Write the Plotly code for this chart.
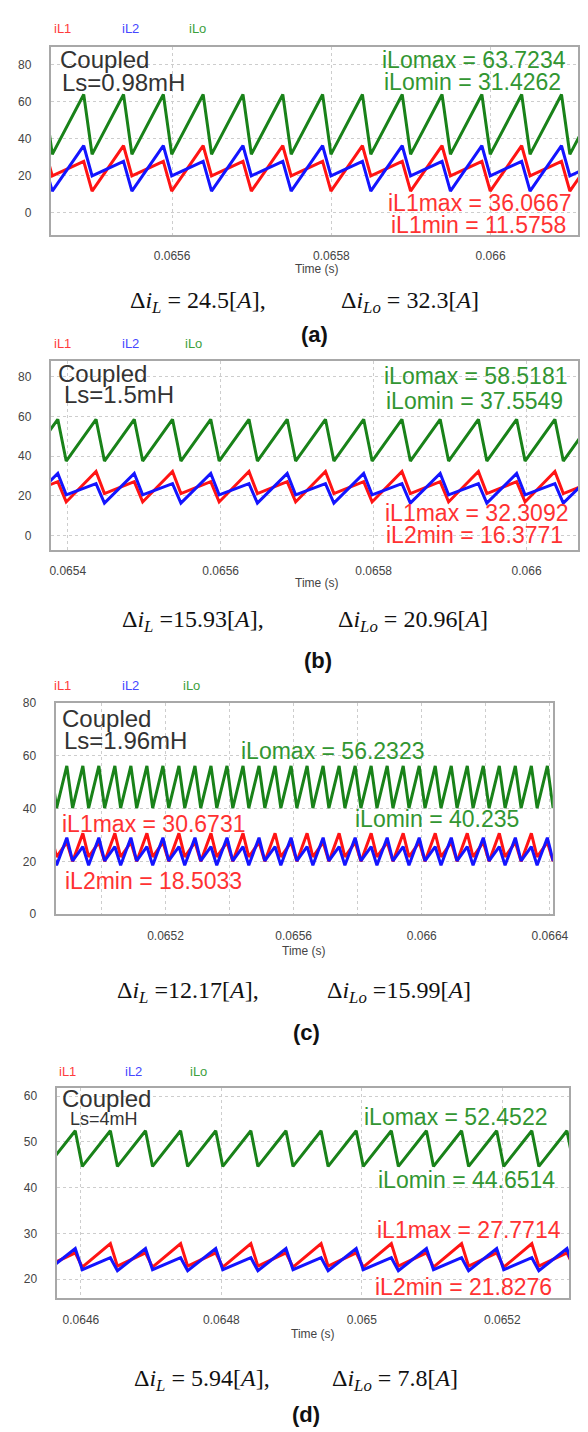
import plotly.graph_objects as go

W, H = 588, 1432

# ---------------- Panel (a): Coupled, Ls = 0.98 mH ----------------
t_a = [0.065439, 0.0654495, 0.065489, 0.0654995, 0.065539, 0.0655495, 0.065589, 0.0655995,
       0.065639, 0.0656495, 0.065689, 0.0656995, 0.065739, 0.0657495, 0.065789, 0.0657995,
       0.065839, 0.0658495, 0.065889, 0.0658995, 0.065939, 0.0659495, 0.065989, 0.0659995,
       0.066039, 0.0660495, 0.066089, 0.0660995, 0.066139]
iL1_a = [36.07, 19.85, 27.66, 11.58, 36.07, 19.85, 27.66, 11.58, 36.07, 19.85, 27.66, 11.58,
         36.07, 19.85, 27.66, 11.58, 36.07, 19.85, 27.66, 11.58, 36.07, 19.85, 27.66, 11.58,
         36.07, 19.85, 27.66, 11.58, 36.07]
iL2_a = [27.66, 11.58, 36.07, 19.85, 27.66, 11.58, 36.07, 19.85, 27.66, 11.58, 36.07, 19.85,
         27.66, 11.58, 36.07, 19.85, 27.66, 11.58, 36.07, 19.85, 27.66, 11.58, 36.07, 19.85,
         27.66, 11.58, 36.07, 19.85, 27.66]
iLo_a = [63.72, 31.43, 63.72, 31.43, 63.72, 31.43, 63.72, 31.43, 63.72, 31.43, 63.72, 31.43,
         63.72, 31.43, 63.72, 31.43, 63.72, 31.43, 63.72, 31.43, 63.72, 31.43, 63.72, 31.43,
         63.72, 31.43, 63.72, 31.43, 63.72]
xt_a = [0.0656, 0.0658, 0.066]
xtl_a = ["0.0656", "0.0658", "0.066"]
xg_a = [0.0656, 0.0658, 0.066]
yt_a = [0, 20, 40, 60, 80]

# ---------------- Panel (b): Coupled, Ls = 1.5 mH ----------------
t_b = [0.065337, 0.065348, 0.065387, 0.065398, 0.065437, 0.065448, 0.065487, 0.065498,
       0.065537, 0.065548, 0.065587, 0.065598, 0.065637, 0.065648, 0.065687, 0.065698,
       0.065737, 0.065748, 0.065787, 0.065798, 0.065837, 0.065848, 0.065887, 0.065898,
       0.065937, 0.065948, 0.065987, 0.065998, 0.066037, 0.066048, 0.066087]
iL1_b = [32.31, 21.17, 27.22, 17.0, 32.31, 21.17, 27.22, 17.0, 32.31, 21.17, 27.22, 17.0,
         32.31, 21.17, 27.22, 17.0, 32.31, 21.17, 27.22, 17.0, 32.31, 21.17, 27.22, 17.0,
         32.31, 21.17, 27.22, 17.0, 32.31, 21.17, 27.22]
iL2_b = [26.21, 16.38, 31.3, 20.55, 26.21, 16.38, 31.3, 20.55, 26.21, 16.38, 31.3, 20.55,
         26.21, 16.38, 31.3, 20.55, 26.21, 16.38, 31.3, 20.55, 26.21, 16.38, 31.3, 20.55,
         26.21, 16.38, 31.3, 20.55, 26.21, 16.38, 31.3]
iLo_b = [58.52, 37.55, 58.52, 37.55, 58.52, 37.55, 58.52, 37.55, 58.52, 37.55, 58.52, 37.55,
         58.52, 37.55, 58.52, 37.55, 58.52, 37.55, 58.52, 37.55, 58.52, 37.55, 58.52, 37.55,
         58.52, 37.55, 58.52, 37.55, 58.52, 37.55, 58.52]
xt_b = [0.0654, 0.0656, 0.0658, 0.066]
xtl_b = ["0.0654", "0.0656", "0.0658", "0.066"]
xg_b = [0.0654, 0.0656, 0.0658, 0.066]
yt_b = [0, 20, 40, 60, 80]

# ---------------- Panel (c): Coupled, Ls = 1.96 mH ----------------
t_c = [0.064842, 0.06486, 0.064892, 0.06491, 0.064942, 0.06496, 0.064992, 0.06501,
       0.065042, 0.06506, 0.065092, 0.06511, 0.065142, 0.06516, 0.065192, 0.06521,
       0.065242, 0.06526, 0.065292, 0.06531, 0.065342, 0.06536, 0.065392, 0.06541,
       0.065442, 0.06546, 0.065492, 0.06551, 0.065542, 0.06556, 0.065592, 0.06561,
       0.065642, 0.06566, 0.065692, 0.06571, 0.065742, 0.06576, 0.065792, 0.06581,
       0.065842, 0.06586, 0.065892, 0.06591, 0.065942, 0.06596, 0.065992, 0.06601,
       0.066042, 0.06606, 0.066092, 0.06611, 0.066142, 0.06616, 0.066192, 0.06621,
       0.066242, 0.06626, 0.066292, 0.06631, 0.066342, 0.06636, 0.066392, 0.06641,
       0.066442]
iL1_c = [30.67, 21.73, 27.23, 20.0, 30.67, 21.73, 27.23, 20.0, 30.67, 21.73, 27.23, 20.0,
         30.67, 21.73, 27.23, 20.0, 30.67, 21.73, 27.23, 20.0, 30.67, 21.73, 27.23, 20.0,
         30.67, 21.73, 27.23, 20.0, 30.67, 21.73, 27.23, 20.0, 30.67, 21.73, 27.23, 20.0,
         30.67, 21.73, 27.23, 20.0, 30.67, 21.73, 27.23, 20.0, 30.67, 21.73, 27.23, 20.0,
         30.67, 21.73, 27.23, 20.0, 30.67, 21.73, 27.23, 20.0, 30.67, 21.73, 27.23, 20.0,
         30.67, 21.73, 27.23, 20.0, 30.67]
iL2_c = [25.56, 18.5, 29.0, 20.23, 25.56, 18.5, 29.0, 20.23, 25.56, 18.5, 29.0, 20.23,
         25.56, 18.5, 29.0, 20.23, 25.56, 18.5, 29.0, 20.23, 25.56, 18.5, 29.0, 20.23,
         25.56, 18.5, 29.0, 20.23, 25.56, 18.5, 29.0, 20.23, 25.56, 18.5, 29.0, 20.23,
         25.56, 18.5, 29.0, 20.23, 25.56, 18.5, 29.0, 20.23, 25.56, 18.5, 29.0, 20.23,
         25.56, 18.5, 29.0, 20.23, 25.56, 18.5, 29.0, 20.23, 25.56, 18.5, 29.0, 20.23,
         25.56, 18.5, 29.0, 20.23, 25.56]
iLo_c = [56.23, 40.24, 56.23, 40.24, 56.23, 40.24, 56.23, 40.24, 56.23, 40.24, 56.23, 40.24,
         56.23, 40.24, 56.23, 40.24, 56.23, 40.24, 56.23, 40.24, 56.23, 40.24, 56.23, 40.24,
         56.23, 40.24, 56.23, 40.24, 56.23, 40.24, 56.23, 40.24, 56.23, 40.24, 56.23, 40.24,
         56.23, 40.24, 56.23, 40.24, 56.23, 40.24, 56.23, 40.24, 56.23, 40.24, 56.23, 40.24,
         56.23, 40.24, 56.23, 40.24, 56.23, 40.24, 56.23, 40.24, 56.23, 40.24, 56.23, 40.24,
         56.23, 40.24, 56.23, 40.24, 56.23]
xt_c = [0.0652, 0.0656, 0.066, 0.0664]
xtl_c = ["0.0652", "0.0656", "0.066", "0.0664"]
xg_c = [0.065, 0.0652, 0.0654, 0.0656, 0.0658, 0.066, 0.0662, 0.0664]
yt_c = [0, 20, 40, 60, 80]

# ---------------- Panel (d): Coupled, Ls = 4 mH ----------------
t_d = [0.064542, 0.064552, 0.064592, 0.064602, 0.064642, 0.064652, 0.064692, 0.064702,
       0.064742, 0.064752, 0.064792, 0.064802, 0.064842, 0.064852, 0.064892, 0.064902,
       0.064942, 0.064952, 0.064992, 0.065002, 0.065042, 0.065052, 0.065092, 0.065102,
       0.065142, 0.065152, 0.065192, 0.065202, 0.065242, 0.065252, 0.065292, 0.065302]
iL1_d = [27.77, 22.82, 25.75, 22.6, 27.77, 22.82, 25.75, 22.6, 27.77, 22.82, 25.75, 22.6,
         27.77, 22.82, 25.75, 22.6, 27.77, 22.82, 25.75, 22.6, 27.77, 22.82, 25.75, 22.6,
         27.77, 22.82, 25.75, 22.6, 27.77, 22.82, 25.75, 22.6]
iL2_d = [24.68, 21.83, 26.7, 22.05, 24.68, 21.83, 26.7, 22.05, 24.68, 21.83, 26.7, 22.05,
         24.68, 21.83, 26.7, 22.05, 24.68, 21.83, 26.7, 22.05, 24.68, 21.83, 26.7, 22.05,
         24.68, 21.83, 26.7, 22.05, 24.68, 21.83, 26.7, 22.05]
iLo_d = [52.45, 44.65, 52.45, 44.65, 52.45, 44.65, 52.45, 44.65, 52.45, 44.65, 52.45, 44.65,
         52.45, 44.65, 52.45, 44.65, 52.45, 44.65, 52.45, 44.65, 52.45, 44.65, 52.45, 44.65,
         52.45, 44.65, 52.45, 44.65, 52.45, 44.65, 52.45, 44.65]
xt_d = [0.0646, 0.0648, 0.065, 0.0652]
xtl_d = ["0.0646", "0.0648", "0.065", "0.0652"]
xg_d = [0.0646, 0.0648, 0.065, 0.0652]
yt_d = [20, 30, 40, 50, 60]

# ---------------- texts ----------------
series_names = ["iL1", "iL2", "iLo"]
ls_texts = ["Ls=0.98mH", "Ls=1.5mH", "Ls=1.96mH", "Ls=4mH"]
max_o = ["iLomax = 63.7234", "iLomax = 58.5181", "iLomax = 56.2323", "iLomax = 52.4522"]
min_o = ["iLomin = 31.4262", "iLomin = 37.5549", "iLomin = 40.235", "iLomin = 44.6514"]
max_1 = ["iL1max = 36.0667", "iL1max = 32.3092", "iL1max = 30.6731", "iL1max = 27.7714"]
min_x = ["iL1min = 11.5758", "iL2min = 16.3771", "iL2min = 18.5033", "iL2min = 21.8276"]
dL = ["= 24.5", "=15.93", "=12.17", "= 5.94"]
dLo = ["= 32.3", "= 20.96", "=15.99", "= 7.8"]
panel_tags = ["(a)", "(b)", "(c)", "(d)"]

# ---------------- style / layout ----------------
RED = "rgb(255,20,20)"
BLUE = "rgb(20,20,255)"
GREEN = "rgb(25,130,25)"
TXT_RED = "rgb(255,50,50)"
TXT_GREEN = "rgb(50,150,50)"
SANS = "Liberation Sans, Arial, sans-serif"
SERIF = "Liberation Serif, Times New Roman, serif"

def px(x):
    return x / W

def py(y):
    return 1 - y / H

panels = [
    dict(t=t_a, s=[iL1_a, iL2_a, iLo_a], xt=xt_a, xtl=xtl_a, xg=xg_a, yt=yt_a,
         box=(43, 586, 32, 222), xr=[0.0654476, 0.0661098], yr=[-12.0, 89.5],
         leg_y=14, leg_x=(55, 125, 194), cp=(50, 45), ls=(53, 68, 24),
         go1=(479, 45), go2=(477, 68), r1=(485, 190), r2=(483, 212),
         time=(317, 257), dl=(195, 413, 290), tag=(315, 323)),
    dict(t=t_b, s=[iL1_b, iL2_b, iLo_b], xt=xt_b, xtl=xtl_b, xg=xg_b, yt=yt_b,
         box=(43, 586, 349, 540), xr=[0.0653778, 0.0660673], yr=[-7.0, 88.0],
         leg_y=332, leg_x=(55, 125, 190), cp=(48, 362), ls=(55, 383, 24),
         go1=(481, 365), go2=(479, 390), r1=(482, 503), r2=(479, 525),
         time=(317, 574), dl=(189, 416, 612), tag=(318, 652)),
    dict(t=t_c, s=[iL1_c, iL2_c, iLo_c], xt=xt_c, xtl=xtl_c, xg=xg_c, yt=yt_c,
         box=(48, 560, 695, 908), xr=[0.064857, 0.066409], yr=[0, 80],
         leg_y=677, leg_x=(55, 125, 188), cp=(53, 710), ls=(55, 733, 24),
         go1=(334, 743), go2=(441, 812), r1=(149, 817), r2=(149, 875),
         time=(304, 945), dl=(184, 402, 987), tag=(306, 1028)),
    dict(t=t_d, s=[iL1_d, iL2_d, iLo_d], xt=xt_d, xtl=xtl_d, xg=xg_d, yt=yt_d,
         box=(49, 577, 1084, 1296), xr=[0.0645654, 0.0652954], yr=[15.8, 61.7],
         leg_y=1067, leg_x=(60, 128, 195), cp=(53, 1094), ls=(61, 1115, 18),
         go1=(460, 1113), go2=(471, 1177), r1=(474, 1227), r2=(468, 1285),
         time=(313, 1332), dl=(199, 397, 1378), tag=(306, 1413)),
]

fig = go.Figure()
layout = dict(width=W, height=H, margin=dict(l=0, r=0, t=0, b=0),
              paper_bgcolor="white", plot_bgcolor="white", showlegend=False)
annotations = []

def ann(text, x, y, size, color, anchor="center", family=SANS):
    annotations.append(dict(text=text, x=px(x), y=py(y), xref="paper", yref="paper",
                            xanchor=anchor, yanchor="middle", showarrow=False,
                            font=dict(size=size, color=color, family=family)))

GRID = dict(showgrid=True, gridcolor="#cdcdcd", griddash="dot", gridwidth=1)

for i, p in enumerate(panels):
    n = "" if i == 0 else str(i + 1)
    xa, ya = "x" + n, "y" + n
    colors = [RED, BLUE, GREEN]
    for k in (0, 1, 2):
        fig.add_trace(go.Scatter(x=p["t"], y=p["s"][k], mode="lines", name=series_names[k],
                                 line=dict(color=colors[k], width=3),
                                 xaxis=xa, yaxis=ya, hoverinfo="skip"))
    x0, x1, y0, y1 = p["box"]
    axcommon = dict(showline=True, mirror=True, linecolor="#a8a8a8", linewidth=2,
                    zeroline=False, ticks="", tickfont=dict(size=12, color="#444", family=SANS),
                    tickmode="array", fixedrange=True)
    layout["xaxis" + n] = dict(axcommon, domain=[px(x0), px(x1)], range=p["xr"], anchor=ya,
                               tickvals=p["xt"], ticktext=p["xtl"], ticklabelstandoff=9,
                               showgrid=False,
                               minor=dict(tickmode="array", tickvals=p["xg"], ticks="", **GRID))
    layout["yaxis" + n] = dict(axcommon, domain=[py(y1), py(y0)], range=p["yr"], anchor=xa,
                               tickvals=p["yt"], ticktext=[str(v) for v in p["yt"]],
                               ticklabelstandoff=15, **GRID)
    # legend labels
    for k in (0, 1, 2):
        ann(series_names[k], p["leg_x"][k], p["leg_y"], 13,
            ["rgb(255,60,60)", "rgb(70,70,255)", "rgb(60,160,60)"][k])
    ann("Coupled", p["cp"][0], p["cp"][1], 24, "#333", anchor="left")
    ann(ls_texts[i], p["ls"][0], p["ls"][1], p["ls"][2], "#333", anchor="left")
    ann(max_o[i], p["go1"][0], p["go1"][1], 23, TXT_GREEN)
    ann(min_o[i], p["go2"][0], p["go2"][1], 23, TXT_GREEN)
    ann(max_1[i], p["r1"][0], p["r1"][1], 23, TXT_RED)
    ann(min_x[i], p["r2"][0], p["r2"][1], 23, TXT_RED)
    ann("Time (s)", p["time"][0], p["time"][1], 12, "#444")
    ann("Δ<i>i</i><sub><i>L</i></sub> " + dL[i] + "[<i>A</i>],",
        p["dl"][0], p["dl"][2], 24, "#111", family=SERIF)
    ann("Δ<i>i</i><sub><i>Lo</i></sub> " + dLo[i] + "[<i>A</i>]",
        p["dl"][1], p["dl"][2], 24, "#111", family=SERIF)
    ann("<b>" + panel_tags[i] + "</b>", p["tag"][0], p["tag"][1], 22, "#111")

layout["annotations"] = annotations
fig.update_layout(**layout)
fig.write_html("out.html", config={"displayModeBar": False})
